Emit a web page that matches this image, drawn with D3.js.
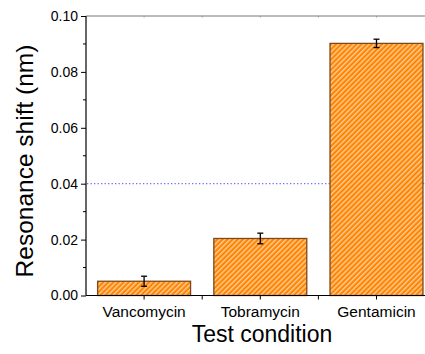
<!DOCTYPE html>
<html><head><meta charset="utf-8">
<script src="https://cdn.jsdelivr.net/npm/d3@7"></script>
<style>body{margin:0;background:#fff;}svg{display:block;font-family:"Liberation Sans",Arial,sans-serif;}</style>
</head><body>
<svg id="c" width="425" height="354"></svg>
<script>
const categories = ["Vancomycin", "Tobramycin", "Gentamicin"];
const values = [0.0051, 0.0204, 0.0902];
const errors = [0.0018, 0.0019, 0.0015];
const yTicks = [0.00, 0.02, 0.04, 0.06, 0.08, 0.10];
const refLine = 0.04;

const svg = d3.select("#c");
const x = d3.scaleBand().domain(categories).range([86, 434.6]).paddingInner(0.2).paddingOuter(0.1);
const y = d3.scaleLinear().domain([0, 0.10]).range([295.5, 16]);

const defs = svg.append("defs");
const pat = defs.append("pattern").attr("id","hatch").attr("patternUnits","userSpaceOnUse")
  .attr("width",3.6).attr("height",3.6).attr("patternTransform","rotate(45)");
pat.append("rect").attr("width",3.6).attr("height",3.6).attr("fill","#ff8400");
pat.append("line").attr("x1",0.8).attr("y1",0).attr("x2",0.8).attr("y2",3.6).attr("stroke","#fff").attr("stroke-width",0.85);

// top line
svg.append("line").attr("x1",86).attr("x2",425).attr("y1",y(0.10)).attr("y2",y(0.10)).attr("stroke","#777").attr("stroke-width",1);
const step = x.step();
const topTicks = [];
categories.forEach((c,i)=>{ topTicks.push(x(c)+x.bandwidth()/2); topTicks.push(86+step*(i+1)); });
svg.selectAll(".tt").data(topTicks).enter().append("line").attr("x1",d=>d).attr("x2",d=>d)
  .attr("y1",y(0.10)).attr("y2",y(0.10)+1.5).attr("stroke","#999");

// ref line
svg.append("line").attr("x1",87).attr("x2",425).attr("y1",y(refLine)).attr("y2",y(refLine))
  .attr("stroke","#6f6fff").attr("stroke-width",1.2).attr("stroke-dasharray","1.3,2.2");

// bars
svg.selectAll(".bar").data(categories).enter().append("rect")
  .attr("x",d=>x(d)).attr("width",x.bandwidth())
  .attr("y",(d,i)=>y(values[i])).attr("height",(d,i)=>y(0)-y(values[i]))
  .attr("fill","url(#hatch)").attr("stroke","#7a4a1c").attr("stroke-width",1.3);

// error bars
const eb = svg.selectAll(".eb").data(categories).enter().append("g").attr("stroke","#000").attr("stroke-width",1.3);
eb.append("line").attr("x1",d=>x(d)+x.bandwidth()/2).attr("x2",d=>x(d)+x.bandwidth()/2)
  .attr("y1",(d,i)=>y(values[i]-errors[i])).attr("y2",(d,i)=>y(values[i]+errors[i]));
eb.append("line").attr("x1",d=>x(d)+x.bandwidth()/2-3).attr("x2",d=>x(d)+x.bandwidth()/2+3)
  .attr("y1",(d,i)=>y(values[i]-errors[i])).attr("y2",(d,i)=>y(values[i]-errors[i]));
eb.append("line").attr("x1",d=>x(d)+x.bandwidth()/2-3).attr("x2",d=>x(d)+x.bandwidth()/2+3)
  .attr("y1",(d,i)=>y(values[i]+errors[i])).attr("y2",(d,i)=>y(values[i]+errors[i]));

// y axis
const yAxis = d3.axisLeft(y).tickValues(yTicks).tickFormat(d3.format(".2f")).tickSize(5).tickPadding(3);
const ya = svg.append("g").attr("transform","translate(86,0)").call(yAxis);
ya.select(".domain").attr("d",`M0,${y(0.10)}V${y(0)}`).attr("stroke","#000").attr("stroke-width",1.2);
ya.selectAll("text").attr("font-size",14).attr("fill","#000").attr("font-family","Liberation Sans, Arial, sans-serif");
ya.selectAll("line").attr("stroke","#000");
const minor = d3.range(0.01, 0.10, 0.02);
ya.selectAll(".mn").data(minor).enter().append("line").attr("x1",0).attr("x2",-3)
  .attr("y1",d=>y(d)).attr("y2",d=>y(d)).attr("stroke","#000");

// x axis
const xa = svg.append("g").attr("transform",`translate(0,${y(0)})`);
xa.append("line").attr("x1",86).attr("x2",425).attr("y1",0).attr("y2",0).attr("stroke","#000").attr("stroke-width",1.2);
xa.selectAll(".xt").data(topTicks).enter().append("line").attr("x1",d=>d).attr("x2",d=>d)
  .attr("y1",0).attr("y2",4).attr("stroke","#000");
xa.selectAll(".xl").data(categories).enter().append("text")
  .attr("x",d=>x(d)+x.bandwidth()/2).attr("y",21.5).attr("text-anchor","middle")
  .attr("font-size",15.5).attr("fill","#000").text(d=>d);

// titles
svg.append("text").attr("x",262).attr("y",342).attr("text-anchor","middle").attr("font-size",23).text("Test condition");
svg.append("text").attr("transform","translate(33,161) rotate(-90)").attr("text-anchor","middle").attr("font-size",24.5).text("Resonance shift (nm)");
</script>
</body></html>
